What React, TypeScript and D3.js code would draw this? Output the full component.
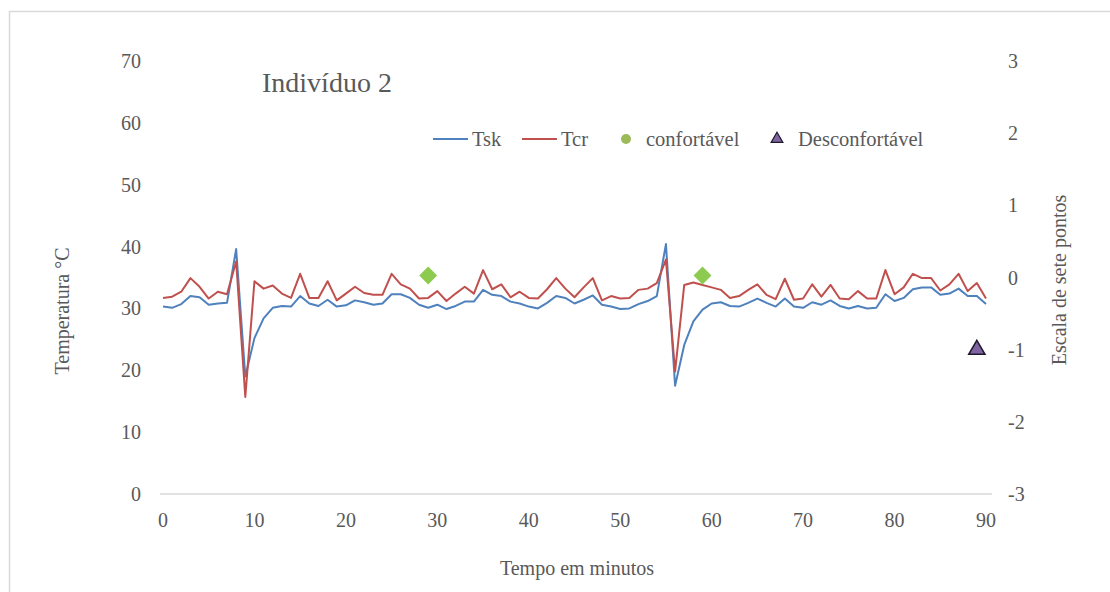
import React from "react";
import * as d3 from "d3";

// Minutes 0..90
const minutes: number[] = d3.range(0, 91);

// Skin temperature (°C)
const tsk: number[] = [
  30.3, 30.1, 30.7, 32.0, 31.8, 30.6, 30.8, 30.9, 39.6, 19.0,
  25.2, 28.4, 30.1, 30.4, 30.3, 32.0, 30.8, 30.4, 31.4, 30.3,
  30.5, 31.3, 31.0, 30.6, 30.8, 32.3, 32.3, 31.7, 30.6, 30.1,
  30.6, 29.9, 30.4, 31.1, 31.1, 33.0, 32.2, 32.0, 31.1, 30.8,
  30.3, 30.0, 30.9, 32.0, 31.7, 30.8, 31.4, 32.1, 30.6, 30.3,
  29.9, 30.0, 30.7, 31.2, 32.0, 40.4, 17.5, 24.1, 27.9, 29.8,
  30.8, 31.0, 30.4, 30.3, 30.9, 31.6, 30.9, 30.3, 31.6, 30.3,
  30.1, 31.0, 30.6, 31.3, 30.4, 30.0, 30.4, 30.0, 30.1, 32.3,
  31.2, 31.7, 33.1, 33.4, 33.4, 32.2, 32.4, 33.2, 32.0, 32.0,
  30.7,
];

// Core temperature (°C)
const tcr: number[] = [
  31.7, 31.9, 32.7, 34.9, 33.5, 31.6, 32.7, 32.3, 37.6, 15.7,
  34.4, 33.2, 33.7, 32.4, 31.7, 35.6, 31.7, 31.7, 34.4, 31.3,
  32.4, 33.5, 32.5, 32.2, 32.2, 35.6, 33.9, 33.2, 31.6, 31.7,
  32.8, 31.2, 32.4, 33.5, 32.4, 36.2, 33.1, 33.9, 31.8, 32.7,
  31.7, 31.6, 33.1, 34.9, 33.2, 31.8, 33.4, 34.9, 31.3, 32.0,
  31.6, 31.7, 33.0, 33.2, 34.1, 37.9, 19.8, 33.8, 34.2, 33.8,
  33.4, 33.0, 31.7, 32.0, 33.0, 33.9, 32.2, 31.5, 34.8, 31.4,
  31.6, 33.9, 31.9, 33.8, 31.6, 31.5, 32.8, 31.6, 31.6, 36.2,
  32.3, 33.4, 35.6, 34.9, 34.9, 32.9, 33.9, 35.6, 32.8, 34.1,
  31.6,
];

// Seven-point comfort scale votes
const comfortMinutes: number[] = [29, 59];
const comfortVotes: number[] = [0, 0];
const discomfortMinutes: number[] = [89];
const discomfortVotes: number[] = [-1];

const xTicks: number[] = [0, 10, 20, 30, 40, 50, 60, 70, 80, 90];
const leftTicks: number[] = [0, 10, 20, 30, 40, 50, 60, 70];
const rightTicks: number[] = [-3, -2, -1, 0, 1, 2, 3];

const W = 1110;
const H = 592;
const TEXT = "#595959";
const FONT = "'Liberation Serif', 'Times New Roman', serif";
const BLUE = "#4F81BD";
const RED = "#C0504D";
const GREEN = "#8CCB4F";
const PURPLE = "#8064A2";

export default function App() {
  const x = d3.scaleLinear().domain([0, 90]).range([163, 986]);
  const yL = d3.scaleLinear().domain([0, 70]).range([494, 61]);
  const yR = d3.scaleLinear().domain([-3, 3]).range([494, 61]);

  const line = (vals: number[]) =>
    d3
      .line<number>()
      .x((_, i) => x(minutes[i]))
      .y((v) => yL(v))(vals) as string;

  const diamond = d3.symbol().type(d3.symbolSquare).size(160)() as string;
  const triangle = d3.symbol().type(d3.symbolTriangle).size(115)() as string;
  const legendTri = d3.symbol().type(d3.symbolTriangle).size(60)() as string;

  return (
    <div style={{ position: "absolute", left: 0, top: 0 }}>
      <svg width={W} height={H} style={{ display: "block", background: "#fff" }}>
        <rect x={9.5} y={11.5} width={1300} height={800} fill="#fff" stroke="#d9d9d9" strokeWidth={1.5} />

        {/* title */}
        <text x={262} y={82} fontFamily={FONT} fontSize={28} fill={TEXT} dominantBaseline="central">
          Indivíduo 2
        </text>

        {/* horizontal axis line */}
        <line x1={x(0) - 3} x2={x(90) + 6} y1={yL(0)} y2={yL(0)} stroke="#d9d9d9" strokeWidth={1.5} />

        {/* left axis ticks */}
        {leftTicks.map((t) => (
          <text key={"l" + t} x={141} y={yL(t)} textAnchor="end" dominantBaseline="central"
            fontFamily={FONT} fontSize={20} fill={TEXT}>
            {t}
          </text>
        ))}

        {/* right axis ticks */}
        {rightTicks.map((t) => (
          <text key={"r" + t} x={t < 0 ? 1008 : 1008} y={yR(t)} textAnchor="start" dominantBaseline="central"
            fontFamily={FONT} fontSize={20} fill={TEXT}>
            {t}
          </text>
        ))}

        {/* bottom axis ticks */}
        {xTicks.map((t) => (
          <text key={"x" + t} x={x(t)} y={520} textAnchor="middle" dominantBaseline="central"
            fontFamily={FONT} fontSize={20} fill={TEXT}>
            {t}
          </text>
        ))}

        {/* axis titles */}
        <text x={577} y={568} textAnchor="middle" dominantBaseline="central" fontFamily={FONT} fontSize={20} fill={TEXT}>
          Tempo em minutos
        </text>
        <text transform="translate(62,311) rotate(-90)" textAnchor="middle" dominantBaseline="central"
          fontFamily={FONT} fontSize={20} fill={TEXT}>
          Temperatura °C
        </text>
        <text transform="translate(1059,280) rotate(-90)" textAnchor="middle" dominantBaseline="central"
          fontFamily={FONT} fontSize={20} fill={TEXT}>
          Escala de sete pontos
        </text>

        {/* temperature series */}
        <path d={line(tsk)} fill="none" stroke={BLUE} strokeWidth={2} strokeLinejoin="round" />
        <path d={line(tcr)} fill="none" stroke={RED} strokeWidth={2} strokeLinejoin="round" />

        {/* comfort votes */}
        {comfortMinutes.map((m, i) => (
          <path key={"c" + m} d={diamond} fill={GREEN}
            transform={`translate(${x(m)},${yR(comfortVotes[i]) - 2}) rotate(45)`} />
        ))}
        {discomfortMinutes.map((m, i) => (
          <path key={"d" + m} d={triangle} fill={PURPLE} stroke="#1f1a2b" strokeWidth={1.5}
            transform={`translate(${x(m)},${yR(discomfortVotes[i])})`} />
        ))}

        {/* legend */}
        <g fontFamily={FONT} fontSize={20.5} fill={TEXT}>
          <line x1={433} x2={468} y1={139} y2={139} stroke={BLUE} strokeWidth={2} />
          <text x={472} y={139} dominantBaseline="central">Tsk</text>
          <line x1={522} x2={557} y1={139} y2={139} stroke={RED} strokeWidth={2} />
          <text x={561} y={139} dominantBaseline="central">Tcr</text>
          <circle cx={626} cy={139} r={5} fill="#9BBB59" />
          <text x={646} y={139} dominantBaseline="central">confortável</text>
          <path d={legendTri} fill={PURPLE} stroke="#1f1a2b" strokeWidth={1.2} transform="translate(777,139)" />
          <text x={798} y={139} dominantBaseline="central">Desconfortável</text>
        </g>
      </svg>
    </div>
  );
}
